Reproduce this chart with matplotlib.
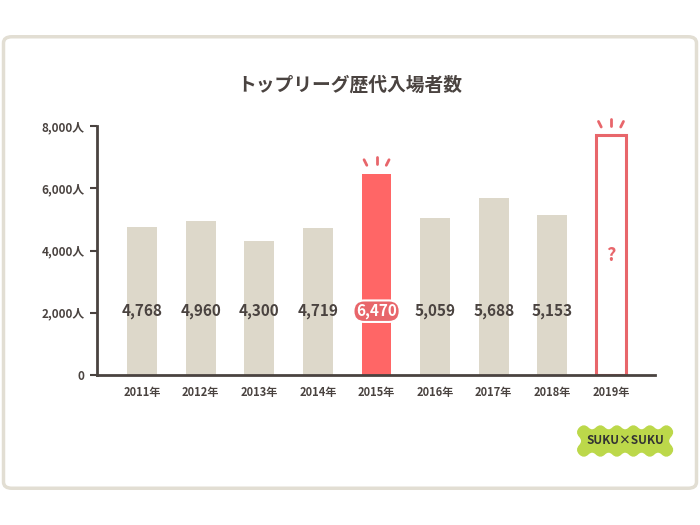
import matplotlib
matplotlib.use('Agg')
import matplotlib.pyplot as plt
from matplotlib.patches import FancyBboxPatch
from matplotlib.transforms import offset_copy
import numpy as np

plt.rcParams['font.family'] = ['Noto Sans CJK JP', 'DejaVu Sans']

years = ['2011年', '2012年', '2013年', '2014年', '2015年', '2016年', '2017年', '2018年', '2019年']
visitors = [4768, 4960, 4300, 4719, 6470, 5059, 5688, 5153]
future_value = 7700  # 2019: unknown, drawn as an empty bar with "?"
yticks = [0, 2000, 4000, 6000, 8000]
ytick_labels = ['0', '2,000人', '4,000人', '6,000人', '8,000人']

dark = '#4a4340'
beige = '#ddd8ca'
red = '#ff6666'
red_line = '#e8666b'

fig = plt.figure(figsize=(7, 5.25), dpi=100)

# rounded frame around everything
frame = FancyBboxPatch((0.005, 0.07), 0.99, 0.86, boxstyle='round,pad=0,rounding_size=0.012',
                       transform=fig.transFigure, facecolor='none', edgecolor='#e2ded3',
                       linewidth=2.5, zorder=-1)
fig.patches.append(frame)

ax = fig.add_axes([0.1386, 0.2857, 0.797, 0.4743])
ax.set_facecolor('none')

x = np.arange(len(years))
w = 0.51
colors = [red if v == max(visitors) else beige for v in visitors]
ax.bar(x[:-1], visitors, width=w, color=colors, zorder=2)
ax.bar(x[-1], future_value, width=w, facecolor='white', edgecolor=red_line, linewidth=2.2, zorder=2)

ax.set_xlim(-0.77, 8.75)
ax.set_ylim(0, 8000)

# value labels
for i, v in enumerate(visitors):
    if v == max(visitors):
        ax.text(i, 2050, f'{v:,}', ha='center', va='center', fontsize=11, fontweight='bold',
                color='white', zorder=4,
                bbox=dict(boxstyle='round,pad=0.18,rounding_size=0.7', facecolor=red_line,
                          edgecolor='white', linewidth=1.5))
    else:
        ax.text(i, 2050, f'{v:,}', ha='center', va='center', fontsize=11, fontweight='bold',
                color=dark, zorder=4)
ax.text(x[-1], 3850, '?', ha='center', va='center', fontsize=13, fontweight='bold', color=red_line)

# little burst marks above the highlighted bars (offsets in points from bar top)
burst = [(-7, 6, -9, 10), (0, 7, 0, 12), (7, 6, 9, 10)]
for xi, top in [(x[4], visitors[4]), (x[-1], future_value)]:
    for dx0, dy0, dx1, dy1 in burst:
        p0 = offset_copy(ax.transData, fig=fig, x=dx0, y=dy0, units='points').transform((xi, top))
        p1 = offset_copy(ax.transData, fig=fig, x=dx1, y=dy1, units='points').transform((xi, top))
        fig.add_artist(plt.Line2D([p0[0] / fig.bbox.width, p1[0] / fig.bbox.width],
                                  [p0[1] / fig.bbox.height, p1[1] / fig.bbox.height],
                                  transform=fig.transFigure, color=red_line, linewidth=2,
                                  solid_capstyle='round'))

ax.set_xticks(x)
ax.set_xticklabels(years, fontsize=8, fontweight='bold', color=dark)
ax.set_yticks(yticks)
ax.set_yticklabels(ytick_labels, fontsize=8.5, fontweight='bold', color=dark)
ax.tick_params(axis='x', length=0, pad=8)
ax.tick_params(axis='y', length=5, width=1.5, color=dark, pad=4)
for s in ['top', 'right']:
    ax.spines[s].set_visible(False)
ax.spines['left'].set_color(dark)
ax.spines['left'].set_linewidth(2)
ax.spines['bottom'].set_color(dark)
ax.spines['bottom'].set_linewidth(2)

fig.text(0.5, 0.838, 'トップリーグ歴代入場者数', ha='center', va='center', fontsize=13.5,
         fontweight='bold', color=dark)

# SUKU×SUKU logo
fig.text(0.893, 0.16, 'SUKU×SUKU', ha='center', va='center', fontsize=8.5, fontweight='bold',
         color='#333333',
         bbox=dict(boxstyle='roundtooth,pad=0.9,tooth_size=0.7', facecolor='#bcd84a',
                   edgecolor='#bcd84a'))

fig.savefig('out.png', dpi=100)
